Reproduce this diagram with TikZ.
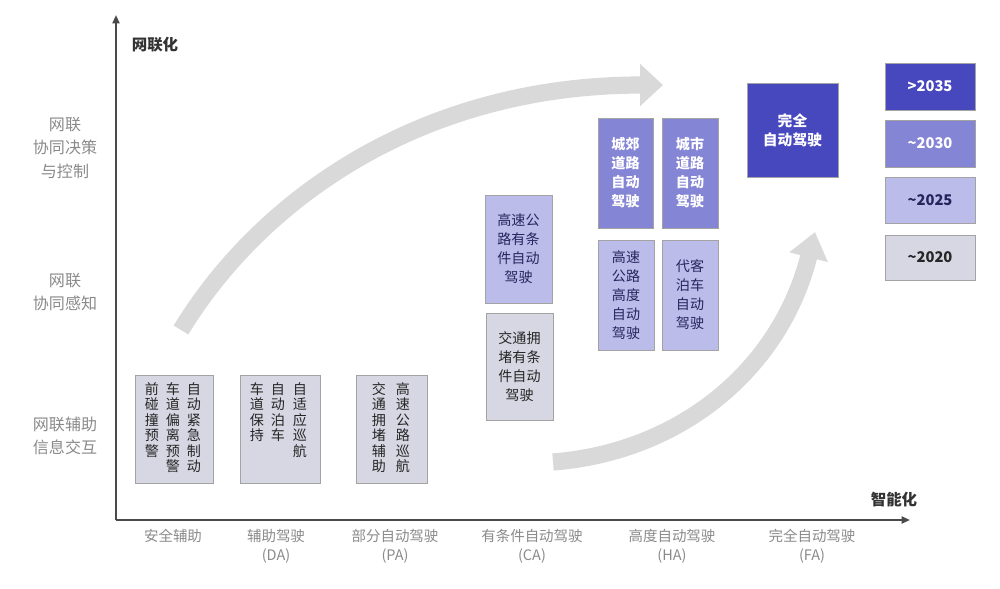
\documentclass[tikz,border=0pt]{standalone}
\usepackage{fontspec}
\setmainfont{Noto Sans CJK SC}
\usetikzlibrary{arrows.meta}
\definecolor{boxgrey}{HTML}{D7D7E4}
\definecolor{boxline}{HTML}{A3A3A3}
\definecolor{lavender}{HTML}{BCBCEA}
\definecolor{midpurple}{HTML}{8585D5}
\definecolor{deeppurple}{HTML}{4747BE}
\definecolor{navytext}{HTML}{25255E}
\definecolor{labelgrey}{HTML}{8A8A8A}
\definecolor{axisgrey}{HTML}{4A4A4A}
\definecolor{trendgrey}{HTML}{D9D9D9}

\tikzset{
  levelbox/.style={draw=boxline, line width=0.6pt, inner sep=0pt, align=center},
  greybox/.style={levelbox, fill=boxgrey, text=black!85},
  lightbox/.style={levelbox, fill=lavender, text=navytext,
    font=\fontsize{10}{13.5}\selectfont},
  midbox/.style={levelbox, fill=midpurple, text=white,
    font=\bfseries\fontsize{10}{13.5}\selectfont},
  deepbox/.style={levelbox, fill=deeppurple, text=white,
    font=\bfseries\fontsize{10.5}{13.5}\selectfont},
  yearfont/.style={font=\bfseries\fontsize{10.5}{12}\selectfont},
  vcol/.style={anchor=north, inner sep=0pt, align=center, text=black!85,
    font=\fontsize{10}{11}\selectfont},
  axisline/.style={axisgrey, line width=1.4pt, -{Triangle[length=6pt,width=5pt]}},
  trend/.style={trendgrey, line width=0.43cm},
  rowlabel/.style={labelgrey, align=center, font=\fontsize{11.4}{16.4}\selectfont},
  levellabel/.style={labelgrey, anchor=north, align=center, inner sep=0pt,
    font=\fontsize{10.3}{13.5}\selectfont},
  axislabel/.style={black!80, font=\bfseries\fontsize{11}{13}\selectfont}
}

\begin{document}
\begin{tikzpicture}[x=0.025cm, y=-0.025cm]
  \useasboundingbox (0,0) rectangle (1000,588);

  % trend arrows
  \coordinate (t1s) at (181,330);
  \coordinate (t1e) at (663,85);
  \coordinate (t2s) at (553,462);
  \coordinate (t2e) at (815,232);
  \draw[trend, -{Triangle[length=0.575cm,width=1.025cm]}]
    (t1s) .. controls (260,200) and (420,85) .. (t1e);
  \draw[trend, -{Triangle[length=0.65cm,width=0.95cm]}]
    (t2s) .. controls (680,452) and (780,370) .. (t2e);

  % axes
  \coordinate (origin) at (116,520);
  \coordinate (ytop) at (116,15);
  \coordinate (xend) at (910,520);
  \draw[axisline] (origin) -- (ytop);
  \draw[axisline] (origin) -- (xend);
  \node[axislabel] (ylab) at (155,45) {网联化};
  \node[axislabel] (xlab) at (894,500) {智能化};

  \node[rowlabel] (row3) at (65,148) {网联\\协同决策\\与控制};
  \node[rowlabel] (row2) at (65,292) {网联\\协同感知};
  \node[rowlabel] (row1) at (65,436) {网联辅助\\信息交互};

  \node[levellabel] (lv0) at (173,529) {安全辅助};
  \node[levellabel] (lv1) at (276,529) {辅助驾驶\\(DA)};
  \node[levellabel] (lv2) at (395,529) {部分自动驾驶\\(PA)};
  \node[levellabel] (lv3) at (532,529) {有条件自动驾驶\\(CA)};
  \node[levellabel] (lv4) at (672,529) {高度自动驾驶\\(HA)};
  \node[levellabel] (lv5) at (812,529) {完全自动驾驶\\(FA)};

  % safety / DA / PA boxes
  \node[greybox, minimum width=1.95cm, minimum height=2.7cm] (safe) at (174,429) {};
  \node[vcol] (safe1) at (194,382) {自\\动\\紧\\急\\制\\动};
  \node[vcol] (safe2) at (173,382) {车\\道\\偏\\离\\预\\警};
  \node[vcol] (safe3) at (152,382) {前\\碰\\撞\\预\\警};

  \node[greybox, minimum width=2.0cm, minimum height=2.7cm] (da) at (280,429) {};
  \node[vcol] (da1) at (300,382) {自\\适\\应\\巡\\航};
  \node[vcol] (da2) at (278,382) {自\\动\\泊\\车};
  \node[vcol] (da3) at (257,382) {车\\道\\保\\持};

  \node[greybox, minimum width=1.775cm, minimum height=2.7cm] (pa) at (391.5,429) {};
  \node[vcol] (pa1) at (403,382) {高\\速\\公\\路\\巡\\航};
  \node[vcol] (pa2) at (379,382) {交\\通\\拥\\堵\\辅\\助};

  % CA boxes
  \node[lightbox, minimum width=1.675cm, minimum height=2.7cm] (ca1) at (518.5,249)
    {高速公\\路有条\\件自动\\驾驶};
  \node[greybox, font=\fontsize{10}{13.5}\selectfont,
    minimum width=1.675cm, minimum height=2.675cm] (ca2) at (519.5,366.5)
    {交通拥\\堵有条\\件自动\\驾驶};

  % HA boxes
  \node[midbox, minimum width=1.375cm, minimum height=2.75cm] (ha1) at (625.5,173)
    {城郊\\道路\\自动\\驾驶};
  \node[midbox, minimum width=1.4cm, minimum height=2.75cm] (ha2) at (690,173)
    {城市\\道路\\自动\\驾驶};
  \node[lightbox, minimum width=1.4cm, minimum height=2.75cm] (ha3) at (626,295)
    {高速\\公路\\高度\\自动\\驾驶};
  \node[lightbox, minimum width=1.4cm, minimum height=2.75cm] (ha4) at (690,295)
    {代客\\泊车\\自动\\驾驶};

  % FA box
  \node[deepbox, minimum width=2.275cm, minimum height=2.35cm] (fa) at (792.5,130)
    {完全\\自动驾驶};

  % legend
  \node[deepbox, yearfont, minimum width=2.25cm, minimum height=1.175cm]
    (y2035) at (930,86.5) {>2035};
  \node[midbox, yearfont, minimum width=2.25cm, minimum height=1.175cm]
    (y2030) at (930,143.5) {\textasciitilde2030};
  \node[lightbox, yearfont, minimum width=2.25cm, minimum height=1.15cm]
    (y2025) at (930,200) {\textasciitilde2025};
  \node[greybox, yearfont, minimum width=2.25cm, minimum height=1.125cm]
    (y2020) at (930,257.5) {\textasciitilde2020};
\end{tikzpicture}
\end{document}
